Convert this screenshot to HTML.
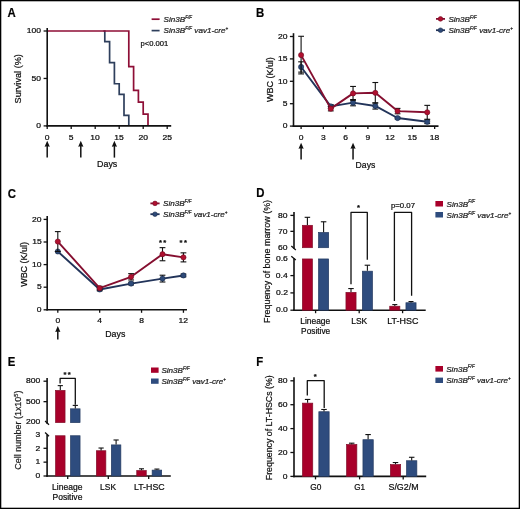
<!DOCTYPE html>
<html><head><meta charset="utf-8"><style>
html,body{margin:0;padding:0;background:#fff;}
svg{display:block;will-change:transform;}
text{font-family:"Liberation Sans", sans-serif;stroke:#222;stroke-width:0.22px;}
</style></head><body>
<svg width="520" height="509" viewBox="0 0 520 509" font-family='"Liberation Sans", sans-serif'>
<rect x="0" y="0" width="520" height="509" fill="#fff"/>
<text x="7.62" y="16.90" font-size="12" font-weight="bold" textLength="8.23" lengthAdjust="spacingAndGlyphs" fill="#000">A</text>
<polyline points="103.36,31.00 104.80,31.00 104.80,41.53 109.60,41.53 109.60,62.60 114.40,62.60 114.40,83.76 119.20,83.76 119.20,94.30 124.00,94.30 124.00,115.37 128.80,115.37 128.80,125.90" fill="none" stroke="#2e3f5c" stroke-width="1.7" stroke-linejoin="miter" stroke-linecap="butt"/>
<polyline points="47.20,31.00 128.80,31.00 128.80,66.59 133.60,66.59 133.60,90.31 138.40,90.31 138.40,102.18 143.20,102.18 143.20,114.04 148.00,114.04 148.00,125.90" fill="none" stroke="#8e0e36" stroke-width="1.7" stroke-linejoin="miter" stroke-linecap="butt"/>
<line x1="47.20" y1="28.00" x2="47.20" y2="126.70" stroke="#111" stroke-width="1.6" stroke-linecap="butt"/>
<line x1="46.40" y1="125.90" x2="171.20" y2="125.90" stroke="#111" stroke-width="1.6" stroke-linecap="butt"/>
<line x1="43.60" y1="31.00" x2="47.20" y2="31.00" stroke="#111" stroke-width="1.3" stroke-linecap="butt"/>
<text x="26.88" y="33.20" font-size="7" textLength="14.25" lengthAdjust="spacingAndGlyphs">100</text>
<line x1="43.60" y1="78.45" x2="47.20" y2="78.45" stroke="#111" stroke-width="1.3" stroke-linecap="butt"/>
<text x="31.63" y="80.65" font-size="7" textLength="9.50" lengthAdjust="spacingAndGlyphs">50</text>
<line x1="43.60" y1="125.90" x2="47.20" y2="125.90" stroke="#111" stroke-width="1.3" stroke-linecap="butt"/>
<text x="36.38" y="128.10" font-size="7" textLength="4.75" lengthAdjust="spacingAndGlyphs">0</text>
<line x1="47.20" y1="125.90" x2="47.20" y2="128.90" stroke="#111" stroke-width="1.3" stroke-linecap="butt"/>
<text x="44.83" y="139.60" font-size="7" textLength="4.75" lengthAdjust="spacingAndGlyphs">0</text>
<line x1="71.20" y1="125.90" x2="71.20" y2="128.90" stroke="#111" stroke-width="1.3" stroke-linecap="butt"/>
<text x="68.83" y="139.60" font-size="7" textLength="4.75" lengthAdjust="spacingAndGlyphs">5</text>
<line x1="95.20" y1="125.90" x2="95.20" y2="128.90" stroke="#111" stroke-width="1.3" stroke-linecap="butt"/>
<text x="90.29" y="139.60" font-size="7" textLength="9.50" lengthAdjust="spacingAndGlyphs">10</text>
<line x1="119.20" y1="125.90" x2="119.20" y2="128.90" stroke="#111" stroke-width="1.3" stroke-linecap="butt"/>
<text x="114.30" y="139.60" font-size="7" textLength="9.50" lengthAdjust="spacingAndGlyphs">15</text>
<line x1="143.20" y1="125.90" x2="143.20" y2="128.90" stroke="#111" stroke-width="1.3" stroke-linecap="butt"/>
<text x="138.40" y="139.60" font-size="7" textLength="9.50" lengthAdjust="spacingAndGlyphs">20</text>
<line x1="167.20" y1="125.90" x2="167.20" y2="128.90" stroke="#111" stroke-width="1.3" stroke-linecap="butt"/>
<text x="162.42" y="139.60" font-size="7" textLength="9.50" lengthAdjust="spacingAndGlyphs">25</text>
<text x="21.20" y="103.42" font-size="9.4" textLength="49.28" lengthAdjust="spacingAndGlyphs" transform="rotate(-90 21.20 103.42)">Survival (%)</text>
<line x1="47.20" y1="145.80" x2="47.20" y2="157.60" stroke="#111" stroke-width="1.5" stroke-linecap="butt"/>
<path d="M44.60,146.80 L47.20,140.80 L49.80,146.80 L47.20,146.30 Z" fill="#111"/>
<line x1="80.80" y1="145.80" x2="80.80" y2="157.60" stroke="#111" stroke-width="1.5" stroke-linecap="butt"/>
<path d="M78.20,146.80 L80.80,140.80 L83.40,146.80 L80.80,146.30 Z" fill="#111"/>
<line x1="114.40" y1="145.80" x2="114.40" y2="157.60" stroke="#111" stroke-width="1.5" stroke-linecap="butt"/>
<path d="M111.80,146.80 L114.40,140.80 L117.00,146.80 L114.40,146.30 Z" fill="#111"/>
<text x="97.07" y="166.60" font-size="9.3" textLength="20.25" lengthAdjust="spacingAndGlyphs">Days</text>
<line x1="151.60" y1="19.20" x2="159.60" y2="19.20" stroke="#8e0e36" stroke-width="1.7" stroke-linecap="butt"/>
<line x1="151.60" y1="30.60" x2="159.60" y2="30.60" stroke="#2e3f5c" stroke-width="1.7" stroke-linecap="butt"/>
<text x="163.60" y="22.10" font-size="8.1" font-style="italic" fill="#1a1a1a" stroke-width="0.1">Sin3B<tspan font-size="4.6" dy="-3.4">F/F</tspan></text>
<text x="163.60" y="33.30" font-size="8.1" font-style="italic" fill="#1a1a1a" stroke-width="0.1">Sin3B<tspan font-size="4.6" dy="-3.4">F/F</tspan><tspan dy="3.4" font-size="8.1"> vav1-cre</tspan><tspan font-size="4.6" dy="-3.4">+</tspan></text>
<text x="140.51" y="46.00" font-size="7.2" textLength="27.76" lengthAdjust="spacingAndGlyphs">p&lt;0.001</text>
<text x="256.04" y="17.00" font-size="12" font-weight="bold" textLength="8.23" lengthAdjust="spacingAndGlyphs" fill="#000">B</text>
<line x1="293.50" y1="33.20" x2="293.50" y2="126.90" stroke="#111" stroke-width="1.6" stroke-linecap="butt"/>
<line x1="292.70" y1="126.10" x2="438.50" y2="126.10" stroke="#111" stroke-width="1.6" stroke-linecap="butt"/>
<line x1="289.90" y1="126.10" x2="293.50" y2="126.10" stroke="#111" stroke-width="1.3" stroke-linecap="butt"/>
<text x="282.68" y="128.30" font-size="7" textLength="4.75" lengthAdjust="spacingAndGlyphs">0</text>
<line x1="289.90" y1="103.70" x2="293.50" y2="103.70" stroke="#111" stroke-width="1.3" stroke-linecap="butt"/>
<text x="282.71" y="105.90" font-size="7" textLength="4.75" lengthAdjust="spacingAndGlyphs">5</text>
<line x1="289.90" y1="81.30" x2="293.50" y2="81.30" stroke="#111" stroke-width="1.3" stroke-linecap="butt"/>
<text x="277.93" y="83.50" font-size="7" textLength="9.50" lengthAdjust="spacingAndGlyphs">10</text>
<line x1="289.90" y1="58.90" x2="293.50" y2="58.90" stroke="#111" stroke-width="1.3" stroke-linecap="butt"/>
<text x="277.96" y="61.10" font-size="7" textLength="9.50" lengthAdjust="spacingAndGlyphs">15</text>
<line x1="289.90" y1="36.50" x2="293.50" y2="36.50" stroke="#111" stroke-width="1.3" stroke-linecap="butt"/>
<text x="277.93" y="38.70" font-size="7" textLength="9.50" lengthAdjust="spacingAndGlyphs">20</text>
<line x1="301.10" y1="126.10" x2="301.10" y2="129.10" stroke="#111" stroke-width="1.3" stroke-linecap="butt"/>
<text x="298.73" y="139.60" font-size="7" textLength="4.75" lengthAdjust="spacingAndGlyphs">0</text>
<line x1="323.36" y1="126.10" x2="323.36" y2="129.10" stroke="#111" stroke-width="1.3" stroke-linecap="butt"/>
<text x="321.01" y="139.60" font-size="7" textLength="4.75" lengthAdjust="spacingAndGlyphs">3</text>
<line x1="345.62" y1="126.10" x2="345.62" y2="129.10" stroke="#111" stroke-width="1.3" stroke-linecap="butt"/>
<text x="343.22" y="139.60" font-size="7" textLength="4.75" lengthAdjust="spacingAndGlyphs">6</text>
<line x1="367.88" y1="126.10" x2="367.88" y2="129.10" stroke="#111" stroke-width="1.3" stroke-linecap="butt"/>
<text x="365.51" y="139.60" font-size="7" textLength="4.75" lengthAdjust="spacingAndGlyphs">9</text>
<line x1="390.14" y1="126.10" x2="390.14" y2="129.10" stroke="#111" stroke-width="1.3" stroke-linecap="butt"/>
<text x="385.28" y="139.60" font-size="7" textLength="9.50" lengthAdjust="spacingAndGlyphs">12</text>
<line x1="412.40" y1="126.10" x2="412.40" y2="129.10" stroke="#111" stroke-width="1.3" stroke-linecap="butt"/>
<text x="407.50" y="139.60" font-size="7" textLength="9.50" lengthAdjust="spacingAndGlyphs">15</text>
<line x1="434.66" y1="126.10" x2="434.66" y2="129.10" stroke="#111" stroke-width="1.3" stroke-linecap="butt"/>
<text x="429.77" y="139.60" font-size="7" textLength="9.50" lengthAdjust="spacingAndGlyphs">18</text>
<text x="272.80" y="102.04" font-size="9.4" textLength="44.90" lengthAdjust="spacingAndGlyphs" transform="rotate(-90 272.80 102.04)">WBC (K/ul)</text>
<line x1="301.10" y1="147.70" x2="301.10" y2="159.40" stroke="#111" stroke-width="1.5" stroke-linecap="butt"/>
<path d="M298.50,148.70 L301.10,142.70 L303.70,148.70 L301.10,148.20 Z" fill="#111"/>
<line x1="353.04" y1="147.70" x2="353.04" y2="159.40" stroke="#111" stroke-width="1.5" stroke-linecap="butt"/>
<path d="M350.44,148.70 L353.04,142.70 L355.64,148.70 L353.04,148.20 Z" fill="#111"/>
<text x="355.59" y="168.30" font-size="9.3" textLength="19.72" lengthAdjust="spacingAndGlyphs">Days</text>
<line x1="301.10" y1="66.96" x2="301.10" y2="61.81" stroke="#111" stroke-width="1.1" stroke-linecap="butt"/>
<line x1="298.20" y1="61.81" x2="304.00" y2="61.81" stroke="#111" stroke-width="1.1" stroke-linecap="butt"/>
<line x1="301.10" y1="66.96" x2="301.10" y2="72.12" stroke="#111" stroke-width="1.1" stroke-linecap="butt"/>
<line x1="298.20" y1="72.12" x2="304.00" y2="72.12" stroke="#111" stroke-width="1.1" stroke-linecap="butt"/>
<line x1="330.78" y1="106.39" x2="330.78" y2="104.60" stroke="#111" stroke-width="1.1" stroke-linecap="butt"/>
<line x1="327.88" y1="104.60" x2="333.68" y2="104.60" stroke="#111" stroke-width="1.1" stroke-linecap="butt"/>
<line x1="330.78" y1="106.39" x2="330.78" y2="108.18" stroke="#111" stroke-width="1.1" stroke-linecap="butt"/>
<line x1="327.88" y1="108.18" x2="333.68" y2="108.18" stroke="#111" stroke-width="1.1" stroke-linecap="butt"/>
<line x1="353.04" y1="102.67" x2="353.04" y2="99.53" stroke="#111" stroke-width="1.1" stroke-linecap="butt"/>
<line x1="350.14" y1="99.53" x2="355.94" y2="99.53" stroke="#111" stroke-width="1.1" stroke-linecap="butt"/>
<line x1="353.04" y1="102.67" x2="353.04" y2="105.81" stroke="#111" stroke-width="1.1" stroke-linecap="butt"/>
<line x1="350.14" y1="105.81" x2="355.94" y2="105.81" stroke="#111" stroke-width="1.1" stroke-linecap="butt"/>
<line x1="375.30" y1="105.94" x2="375.30" y2="102.80" stroke="#111" stroke-width="1.1" stroke-linecap="butt"/>
<line x1="372.40" y1="102.80" x2="378.20" y2="102.80" stroke="#111" stroke-width="1.1" stroke-linecap="butt"/>
<line x1="375.30" y1="105.94" x2="375.30" y2="109.08" stroke="#111" stroke-width="1.1" stroke-linecap="butt"/>
<line x1="372.40" y1="109.08" x2="378.20" y2="109.08" stroke="#111" stroke-width="1.1" stroke-linecap="butt"/>
<line x1="397.56" y1="118.04" x2="397.56" y2="117.14" stroke="#111" stroke-width="1.1" stroke-linecap="butt"/>
<line x1="394.66" y1="117.14" x2="400.46" y2="117.14" stroke="#111" stroke-width="1.1" stroke-linecap="butt"/>
<line x1="397.56" y1="118.04" x2="397.56" y2="118.93" stroke="#111" stroke-width="1.1" stroke-linecap="butt"/>
<line x1="394.66" y1="118.93" x2="400.46" y2="118.93" stroke="#111" stroke-width="1.1" stroke-linecap="butt"/>
<line x1="427.24" y1="121.80" x2="427.24" y2="120.01" stroke="#111" stroke-width="1.1" stroke-linecap="butt"/>
<line x1="424.34" y1="120.01" x2="430.14" y2="120.01" stroke="#111" stroke-width="1.1" stroke-linecap="butt"/>
<line x1="427.24" y1="121.80" x2="427.24" y2="123.59" stroke="#111" stroke-width="1.1" stroke-linecap="butt"/>
<line x1="424.34" y1="123.59" x2="430.14" y2="123.59" stroke="#111" stroke-width="1.1" stroke-linecap="butt"/>
<polyline points="301.10,66.96 330.78,106.39 353.04,102.67 375.30,105.94 397.56,118.04 427.24,121.80" fill="none" stroke="#22345a" stroke-width="1.9" stroke-linejoin="round" stroke-linecap="butt"/>
<circle cx="301.10" cy="66.96" r="2.6" fill="#2e4a78" stroke="#1a2a4a" stroke-width="0.6"/>
<circle cx="330.78" cy="106.39" r="2.6" fill="#2e4a78" stroke="#1a2a4a" stroke-width="0.6"/>
<circle cx="353.04" cy="102.67" r="2.6" fill="#2e4a78" stroke="#1a2a4a" stroke-width="0.6"/>
<circle cx="375.30" cy="105.94" r="2.6" fill="#2e4a78" stroke="#1a2a4a" stroke-width="0.6"/>
<circle cx="397.56" cy="118.04" r="2.6" fill="#2e4a78" stroke="#1a2a4a" stroke-width="0.6"/>
<circle cx="427.24" cy="121.80" r="2.6" fill="#2e4a78" stroke="#1a2a4a" stroke-width="0.6"/>
<line x1="301.10" y1="55.09" x2="301.10" y2="36.28" stroke="#111" stroke-width="1.1" stroke-linecap="butt"/>
<line x1="298.20" y1="36.28" x2="304.00" y2="36.28" stroke="#111" stroke-width="1.1" stroke-linecap="butt"/>
<line x1="301.10" y1="55.09" x2="301.10" y2="73.91" stroke="#111" stroke-width="1.1" stroke-linecap="butt"/>
<line x1="298.20" y1="73.91" x2="304.00" y2="73.91" stroke="#111" stroke-width="1.1" stroke-linecap="butt"/>
<line x1="330.78" y1="108.63" x2="330.78" y2="106.39" stroke="#111" stroke-width="1.1" stroke-linecap="butt"/>
<line x1="327.88" y1="106.39" x2="333.68" y2="106.39" stroke="#111" stroke-width="1.1" stroke-linecap="butt"/>
<line x1="330.78" y1="108.63" x2="330.78" y2="110.87" stroke="#111" stroke-width="1.1" stroke-linecap="butt"/>
<line x1="327.88" y1="110.87" x2="333.68" y2="110.87" stroke="#111" stroke-width="1.1" stroke-linecap="butt"/>
<line x1="353.04" y1="93.40" x2="353.04" y2="86.45" stroke="#111" stroke-width="1.1" stroke-linecap="butt"/>
<line x1="350.14" y1="86.45" x2="355.94" y2="86.45" stroke="#111" stroke-width="1.1" stroke-linecap="butt"/>
<line x1="353.04" y1="93.40" x2="353.04" y2="100.34" stroke="#111" stroke-width="1.1" stroke-linecap="butt"/>
<line x1="350.14" y1="100.34" x2="355.94" y2="100.34" stroke="#111" stroke-width="1.1" stroke-linecap="butt"/>
<line x1="375.30" y1="92.81" x2="375.30" y2="82.51" stroke="#111" stroke-width="1.1" stroke-linecap="butt"/>
<line x1="372.40" y1="82.51" x2="378.20" y2="82.51" stroke="#111" stroke-width="1.1" stroke-linecap="butt"/>
<line x1="375.30" y1="92.81" x2="375.30" y2="103.12" stroke="#111" stroke-width="1.1" stroke-linecap="butt"/>
<line x1="372.40" y1="103.12" x2="378.20" y2="103.12" stroke="#111" stroke-width="1.1" stroke-linecap="butt"/>
<line x1="397.56" y1="111.09" x2="397.56" y2="108.40" stroke="#111" stroke-width="1.1" stroke-linecap="butt"/>
<line x1="394.66" y1="108.40" x2="400.46" y2="108.40" stroke="#111" stroke-width="1.1" stroke-linecap="butt"/>
<line x1="397.56" y1="111.09" x2="397.56" y2="113.78" stroke="#111" stroke-width="1.1" stroke-linecap="butt"/>
<line x1="394.66" y1="113.78" x2="400.46" y2="113.78" stroke="#111" stroke-width="1.1" stroke-linecap="butt"/>
<line x1="427.24" y1="112.30" x2="427.24" y2="105.36" stroke="#111" stroke-width="1.1" stroke-linecap="butt"/>
<line x1="424.34" y1="105.36" x2="430.14" y2="105.36" stroke="#111" stroke-width="1.1" stroke-linecap="butt"/>
<line x1="427.24" y1="112.30" x2="427.24" y2="119.25" stroke="#111" stroke-width="1.1" stroke-linecap="butt"/>
<line x1="424.34" y1="119.25" x2="430.14" y2="119.25" stroke="#111" stroke-width="1.1" stroke-linecap="butt"/>
<polyline points="301.10,55.09 330.78,108.63 353.04,93.40 375.30,92.81 397.56,111.09 427.24,112.30" fill="none" stroke="#850f30" stroke-width="1.9" stroke-linejoin="round" stroke-linecap="butt"/>
<circle cx="301.10" cy="55.09" r="2.6" fill="#b0102f" stroke="#6e0a22" stroke-width="0.6"/>
<circle cx="330.78" cy="108.63" r="2.6" fill="#b0102f" stroke="#6e0a22" stroke-width="0.6"/>
<circle cx="353.04" cy="93.40" r="2.6" fill="#b0102f" stroke="#6e0a22" stroke-width="0.6"/>
<circle cx="375.30" cy="92.81" r="2.6" fill="#b0102f" stroke="#6e0a22" stroke-width="0.6"/>
<circle cx="397.56" cy="111.09" r="2.6" fill="#b0102f" stroke="#6e0a22" stroke-width="0.6"/>
<circle cx="427.24" cy="112.30" r="2.6" fill="#b0102f" stroke="#6e0a22" stroke-width="0.6"/>
<line x1="436.00" y1="18.90" x2="445.00" y2="18.90" stroke="#850f30" stroke-width="1.8" stroke-linecap="butt"/>
<circle cx="440.50" cy="18.90" r="2.3000000000000003" fill="#b0102f" stroke="#6e0a22" stroke-width="0.6"/>
<line x1="436.00" y1="30.20" x2="445.00" y2="30.20" stroke="#22345a" stroke-width="1.8" stroke-linecap="butt"/>
<circle cx="440.50" cy="30.20" r="2.3000000000000003" fill="#2e4a78" stroke="#1a2a4a" stroke-width="0.6"/>
<text x="448.40" y="22.10" font-size="8.1" font-style="italic" fill="#1a1a1a" stroke-width="0.1">Sin3B<tspan font-size="4.6" dy="-3.4">F/F</tspan></text>
<text x="448.40" y="33.30" font-size="8.1" font-style="italic" fill="#1a1a1a" stroke-width="0.1">Sin3B<tspan font-size="4.6" dy="-3.4">F/F</tspan><tspan dy="3.4" font-size="8.1"> vav1-cre</tspan><tspan font-size="4.6" dy="-3.4">+</tspan></text>
<text x="7.63" y="197.80" font-size="12" font-weight="bold" textLength="8.23" lengthAdjust="spacingAndGlyphs" fill="#000">C</text>
<line x1="47.20" y1="216.00" x2="47.20" y2="310.60" stroke="#111" stroke-width="1.6" stroke-linecap="butt"/>
<line x1="46.40" y1="309.80" x2="187.00" y2="309.80" stroke="#111" stroke-width="1.6" stroke-linecap="butt"/>
<line x1="43.60" y1="309.80" x2="47.20" y2="309.80" stroke="#111" stroke-width="1.3" stroke-linecap="butt"/>
<text x="36.88" y="312.00" font-size="7" textLength="4.75" lengthAdjust="spacingAndGlyphs">0</text>
<line x1="43.60" y1="287.20" x2="47.20" y2="287.20" stroke="#111" stroke-width="1.3" stroke-linecap="butt"/>
<text x="36.91" y="289.40" font-size="7" textLength="4.75" lengthAdjust="spacingAndGlyphs">5</text>
<line x1="43.60" y1="264.60" x2="47.20" y2="264.60" stroke="#111" stroke-width="1.3" stroke-linecap="butt"/>
<text x="32.13" y="266.80" font-size="7" textLength="9.50" lengthAdjust="spacingAndGlyphs">10</text>
<line x1="43.60" y1="242.00" x2="47.20" y2="242.00" stroke="#111" stroke-width="1.3" stroke-linecap="butt"/>
<text x="32.16" y="244.20" font-size="7" textLength="9.50" lengthAdjust="spacingAndGlyphs">15</text>
<line x1="43.60" y1="219.40" x2="47.20" y2="219.40" stroke="#111" stroke-width="1.3" stroke-linecap="butt"/>
<text x="32.13" y="221.60" font-size="7" textLength="9.50" lengthAdjust="spacingAndGlyphs">20</text>
<line x1="57.80" y1="309.80" x2="57.80" y2="312.80" stroke="#111" stroke-width="1.3" stroke-linecap="butt"/>
<text x="55.43" y="323.40" font-size="7" textLength="4.75" lengthAdjust="spacingAndGlyphs">0</text>
<line x1="99.68" y1="309.80" x2="99.68" y2="312.80" stroke="#111" stroke-width="1.3" stroke-linecap="butt"/>
<text x="97.33" y="323.40" font-size="7" textLength="4.75" lengthAdjust="spacingAndGlyphs">4</text>
<line x1="141.56" y1="309.80" x2="141.56" y2="312.80" stroke="#111" stroke-width="1.3" stroke-linecap="butt"/>
<text x="139.19" y="323.40" font-size="7" textLength="4.75" lengthAdjust="spacingAndGlyphs">8</text>
<line x1="183.44" y1="309.80" x2="183.44" y2="312.80" stroke="#111" stroke-width="1.3" stroke-linecap="butt"/>
<text x="178.58" y="323.40" font-size="7" textLength="9.50" lengthAdjust="spacingAndGlyphs">12</text>
<text x="26.80" y="286.84" font-size="9.4" textLength="44.90" lengthAdjust="spacingAndGlyphs" transform="rotate(-90 26.80 286.84)">WBC (K/ul)</text>
<line x1="57.80" y1="330.90" x2="57.80" y2="339.50" stroke="#111" stroke-width="1.5" stroke-linecap="butt"/>
<path d="M55.20,331.90 L57.80,325.90 L60.40,331.90 L57.80,331.40 Z" fill="#111"/>
<text x="105.28" y="337.10" font-size="9.3" textLength="20.04" lengthAdjust="spacingAndGlyphs">Days</text>
<line x1="99.68" y1="289.46" x2="99.68" y2="288.10" stroke="#111" stroke-width="1.1" stroke-linecap="butt"/>
<line x1="96.78" y1="288.10" x2="102.58" y2="288.10" stroke="#111" stroke-width="1.1" stroke-linecap="butt"/>
<line x1="99.68" y1="289.46" x2="99.68" y2="290.82" stroke="#111" stroke-width="1.1" stroke-linecap="butt"/>
<line x1="96.78" y1="290.82" x2="102.58" y2="290.82" stroke="#111" stroke-width="1.1" stroke-linecap="butt"/>
<line x1="131.09" y1="283.58" x2="131.09" y2="282.23" stroke="#111" stroke-width="1.1" stroke-linecap="butt"/>
<line x1="128.19" y1="282.23" x2="133.99" y2="282.23" stroke="#111" stroke-width="1.1" stroke-linecap="butt"/>
<line x1="131.09" y1="283.58" x2="131.09" y2="284.94" stroke="#111" stroke-width="1.1" stroke-linecap="butt"/>
<line x1="128.19" y1="284.94" x2="133.99" y2="284.94" stroke="#111" stroke-width="1.1" stroke-linecap="butt"/>
<line x1="162.50" y1="278.61" x2="162.50" y2="275.22" stroke="#111" stroke-width="1.1" stroke-linecap="butt"/>
<line x1="159.60" y1="275.22" x2="165.40" y2="275.22" stroke="#111" stroke-width="1.1" stroke-linecap="butt"/>
<line x1="162.50" y1="278.61" x2="162.50" y2="282.00" stroke="#111" stroke-width="1.1" stroke-linecap="butt"/>
<line x1="159.60" y1="282.00" x2="165.40" y2="282.00" stroke="#111" stroke-width="1.1" stroke-linecap="butt"/>
<line x1="183.44" y1="275.45" x2="183.44" y2="274.09" stroke="#111" stroke-width="1.1" stroke-linecap="butt"/>
<line x1="180.54" y1="274.09" x2="186.34" y2="274.09" stroke="#111" stroke-width="1.1" stroke-linecap="butt"/>
<line x1="183.44" y1="275.45" x2="183.44" y2="276.80" stroke="#111" stroke-width="1.1" stroke-linecap="butt"/>
<line x1="180.54" y1="276.80" x2="186.34" y2="276.80" stroke="#111" stroke-width="1.1" stroke-linecap="butt"/>
<polyline points="57.80,251.49 99.68,289.46 131.09,283.58 162.50,278.61 183.44,275.45" fill="none" stroke="#22345a" stroke-width="1.9" stroke-linejoin="round" stroke-linecap="butt"/>
<circle cx="57.80" cy="251.49" r="2.6" fill="#2e4a78" stroke="#1a2a4a" stroke-width="0.6"/>
<circle cx="99.68" cy="289.46" r="2.6" fill="#2e4a78" stroke="#1a2a4a" stroke-width="0.6"/>
<circle cx="131.09" cy="283.58" r="2.6" fill="#2e4a78" stroke="#1a2a4a" stroke-width="0.6"/>
<circle cx="162.50" cy="278.61" r="2.6" fill="#2e4a78" stroke="#1a2a4a" stroke-width="0.6"/>
<circle cx="183.44" cy="275.45" r="2.6" fill="#2e4a78" stroke="#1a2a4a" stroke-width="0.6"/>
<line x1="57.80" y1="241.55" x2="57.80" y2="231.60" stroke="#111" stroke-width="1.1" stroke-linecap="butt"/>
<line x1="54.90" y1="231.60" x2="60.70" y2="231.60" stroke="#111" stroke-width="1.1" stroke-linecap="butt"/>
<line x1="57.80" y1="241.55" x2="57.80" y2="251.49" stroke="#111" stroke-width="1.1" stroke-linecap="butt"/>
<line x1="54.90" y1="251.49" x2="60.70" y2="251.49" stroke="#111" stroke-width="1.1" stroke-linecap="butt"/>
<line x1="99.68" y1="288.10" x2="99.68" y2="286.30" stroke="#111" stroke-width="1.1" stroke-linecap="butt"/>
<line x1="96.78" y1="286.30" x2="102.58" y2="286.30" stroke="#111" stroke-width="1.1" stroke-linecap="butt"/>
<line x1="99.68" y1="288.10" x2="99.68" y2="289.91" stroke="#111" stroke-width="1.1" stroke-linecap="butt"/>
<line x1="96.78" y1="289.91" x2="102.58" y2="289.91" stroke="#111" stroke-width="1.1" stroke-linecap="butt"/>
<line x1="131.09" y1="276.80" x2="131.09" y2="273.64" stroke="#111" stroke-width="1.1" stroke-linecap="butt"/>
<line x1="128.19" y1="273.64" x2="133.99" y2="273.64" stroke="#111" stroke-width="1.1" stroke-linecap="butt"/>
<line x1="131.09" y1="276.80" x2="131.09" y2="279.97" stroke="#111" stroke-width="1.1" stroke-linecap="butt"/>
<line x1="128.19" y1="279.97" x2="133.99" y2="279.97" stroke="#111" stroke-width="1.1" stroke-linecap="butt"/>
<line x1="162.50" y1="254.20" x2="162.50" y2="247.65" stroke="#111" stroke-width="1.1" stroke-linecap="butt"/>
<line x1="159.60" y1="247.65" x2="165.40" y2="247.65" stroke="#111" stroke-width="1.1" stroke-linecap="butt"/>
<line x1="162.50" y1="254.20" x2="162.50" y2="260.76" stroke="#111" stroke-width="1.1" stroke-linecap="butt"/>
<line x1="159.60" y1="260.76" x2="165.40" y2="260.76" stroke="#111" stroke-width="1.1" stroke-linecap="butt"/>
<line x1="183.44" y1="257.37" x2="183.44" y2="252.85" stroke="#111" stroke-width="1.1" stroke-linecap="butt"/>
<line x1="180.54" y1="252.85" x2="186.34" y2="252.85" stroke="#111" stroke-width="1.1" stroke-linecap="butt"/>
<line x1="183.44" y1="257.37" x2="183.44" y2="261.89" stroke="#111" stroke-width="1.1" stroke-linecap="butt"/>
<line x1="180.54" y1="261.89" x2="186.34" y2="261.89" stroke="#111" stroke-width="1.1" stroke-linecap="butt"/>
<polyline points="57.80,241.55 99.68,288.10 131.09,276.80 162.50,254.20 183.44,257.37" fill="none" stroke="#850f30" stroke-width="1.9" stroke-linejoin="round" stroke-linecap="butt"/>
<circle cx="57.80" cy="241.55" r="2.6" fill="#b0102f" stroke="#6e0a22" stroke-width="0.6"/>
<circle cx="99.68" cy="288.10" r="2.6" fill="#b0102f" stroke="#6e0a22" stroke-width="0.6"/>
<circle cx="131.09" cy="276.80" r="2.6" fill="#b0102f" stroke="#6e0a22" stroke-width="0.6"/>
<circle cx="162.50" cy="254.20" r="2.6" fill="#b0102f" stroke="#6e0a22" stroke-width="0.6"/>
<circle cx="183.44" cy="257.37" r="2.6" fill="#b0102f" stroke="#6e0a22" stroke-width="0.6"/>
<text x="158.91" y="245.11" font-size="7.6" font-weight="bold" fill="#000">*</text>
<text x="163.21" y="245.11" font-size="7.6" font-weight="bold" fill="#000">*</text>
<text x="179.61" y="245.11" font-size="7.6" font-weight="bold" fill="#000">*</text>
<text x="184.01" y="245.11" font-size="7.6" font-weight="bold" fill="#000">*</text>
<line x1="150.40" y1="203.40" x2="159.60" y2="203.40" stroke="#850f30" stroke-width="1.8" stroke-linecap="butt"/>
<circle cx="155.00" cy="203.40" r="2.3000000000000003" fill="#b0102f" stroke="#6e0a22" stroke-width="0.6"/>
<line x1="150.40" y1="214.20" x2="159.60" y2="214.20" stroke="#22345a" stroke-width="1.8" stroke-linecap="butt"/>
<circle cx="155.00" cy="214.20" r="2.3000000000000003" fill="#2e4a78" stroke="#1a2a4a" stroke-width="0.6"/>
<text x="163.00" y="206.30" font-size="8.1" font-style="italic" fill="#1a1a1a" stroke-width="0.1">Sin3B<tspan font-size="4.6" dy="-3.4">F/F</tspan></text>
<text x="163.00" y="217.40" font-size="8.1" font-style="italic" fill="#1a1a1a" stroke-width="0.1">Sin3B<tspan font-size="4.6" dy="-3.4">F/F</tspan><tspan dy="3.4" font-size="8.1"> vav1-cre</tspan><tspan font-size="4.6" dy="-3.4">+</tspan></text>
<text x="256.14" y="197.20" font-size="12" font-weight="bold" textLength="8.23" lengthAdjust="spacingAndGlyphs" fill="#000">D</text>
<line x1="294.00" y1="211.90" x2="294.00" y2="248.80" stroke="#111" stroke-width="1.6" stroke-linecap="butt"/>
<line x1="294.00" y1="258.20" x2="294.00" y2="311.00" stroke="#111" stroke-width="1.6" stroke-linecap="butt"/>
<line x1="291.30" y1="246.10" x2="295.80" y2="249.90" stroke="#111" stroke-width="1.3" stroke-linecap="butt"/>
<line x1="291.30" y1="256.30" x2="295.80" y2="260.10" stroke="#111" stroke-width="1.3" stroke-linecap="butt"/>
<line x1="293.20" y1="310.20" x2="425.70" y2="310.20" stroke="#111" stroke-width="1.6" stroke-linecap="butt"/>
<text x="278.13" y="249.50" font-size="7" textLength="9.50" lengthAdjust="spacingAndGlyphs">60</text>
<line x1="290.40" y1="231.35" x2="294.00" y2="231.35" stroke="#111" stroke-width="1.3" stroke-linecap="butt"/>
<text x="278.13" y="233.55" font-size="7" textLength="9.50" lengthAdjust="spacingAndGlyphs">70</text>
<line x1="290.40" y1="215.40" x2="294.00" y2="215.40" stroke="#111" stroke-width="1.3" stroke-linecap="butt"/>
<text x="278.13" y="217.60" font-size="7" textLength="9.50" lengthAdjust="spacingAndGlyphs">80</text>
<line x1="290.40" y1="310.20" x2="294.00" y2="310.20" stroke="#111" stroke-width="1.3" stroke-linecap="butt"/>
<text x="275.96" y="312.40" font-size="7" textLength="11.87" lengthAdjust="spacingAndGlyphs">0.0</text>
<line x1="290.40" y1="292.90" x2="294.00" y2="292.90" stroke="#111" stroke-width="1.3" stroke-linecap="butt"/>
<text x="276.06" y="295.10" font-size="7" textLength="11.87" lengthAdjust="spacingAndGlyphs">0.2</text>
<line x1="290.40" y1="275.60" x2="294.00" y2="275.60" stroke="#111" stroke-width="1.3" stroke-linecap="butt"/>
<text x="275.88" y="277.80" font-size="7" textLength="11.87" lengthAdjust="spacingAndGlyphs">0.4</text>
<text x="276.00" y="260.50" font-size="7" textLength="11.87" lengthAdjust="spacingAndGlyphs">0.6</text>
<text x="269.80" y="322.93" font-size="9.6" textLength="122.99" lengthAdjust="spacingAndGlyphs" transform="rotate(-90 269.80 322.93)">Frequency of bone marrow (%)</text>
<line x1="315.60" y1="310.20" x2="315.60" y2="313.20" stroke="#111" stroke-width="1.3" stroke-linecap="butt"/>
<line x1="359.20" y1="310.20" x2="359.20" y2="313.20" stroke="#111" stroke-width="1.3" stroke-linecap="butt"/>
<line x1="402.60" y1="310.20" x2="402.60" y2="313.20" stroke="#111" stroke-width="1.3" stroke-linecap="butt"/>
<rect x="302.35" y="225.32" width="10.10" height="22.38" fill="#a8002a" stroke="#82102c" stroke-width="0.7"/>
<rect x="318.55" y="232.50" width="10.10" height="15.20" fill="#2e4c7e" stroke="#243a60" stroke-width="0.7"/>
<line x1="307.40" y1="224.97" x2="307.40" y2="217.31" stroke="#111" stroke-width="1.1" stroke-linecap="butt"/>
<line x1="304.65" y1="217.31" x2="310.15" y2="217.31" stroke="#111" stroke-width="1.1" stroke-linecap="butt"/>
<line x1="323.60" y1="232.15" x2="323.60" y2="221.78" stroke="#111" stroke-width="1.1" stroke-linecap="butt"/>
<line x1="320.85" y1="221.78" x2="326.35" y2="221.78" stroke="#111" stroke-width="1.1" stroke-linecap="butt"/>
<rect x="302.35" y="258.95" width="10.10" height="51.25" fill="#a8002a" stroke="#82102c" stroke-width="0.7"/>
<rect x="318.55" y="258.95" width="10.10" height="51.25" fill="#2e4c7e" stroke="#243a60" stroke-width="0.7"/>
<rect x="345.95" y="292.38" width="10.10" height="17.82" fill="#a8002a" stroke="#82102c" stroke-width="0.7"/>
<rect x="362.35" y="271.19" width="10.10" height="39.01" fill="#2e4c7e" stroke="#243a60" stroke-width="0.7"/>
<line x1="351.00" y1="292.03" x2="351.00" y2="288.57" stroke="#111" stroke-width="1.1" stroke-linecap="butt"/>
<line x1="348.25" y1="288.57" x2="353.75" y2="288.57" stroke="#111" stroke-width="1.1" stroke-linecap="butt"/>
<line x1="367.40" y1="270.84" x2="367.40" y2="265.22" stroke="#111" stroke-width="1.1" stroke-linecap="butt"/>
<line x1="364.65" y1="265.22" x2="370.15" y2="265.22" stroke="#111" stroke-width="1.1" stroke-linecap="butt"/>
<rect x="389.75" y="306.23" width="10.10" height="3.97" fill="#a8002a" stroke="#82102c" stroke-width="0.7"/>
<rect x="405.95" y="302.76" width="10.10" height="7.44" fill="#2e4c7e" stroke="#243a60" stroke-width="0.7"/>
<line x1="394.80" y1="305.88" x2="394.80" y2="304.58" stroke="#111" stroke-width="1.1" stroke-linecap="butt"/>
<line x1="392.30" y1="304.58" x2="397.30" y2="304.58" stroke="#111" stroke-width="1.1" stroke-linecap="butt"/>
<line x1="411.00" y1="302.41" x2="411.00" y2="301.55" stroke="#111" stroke-width="1.1" stroke-linecap="butt"/>
<line x1="408.50" y1="301.55" x2="413.50" y2="301.55" stroke="#111" stroke-width="1.1" stroke-linecap="butt"/>
<polyline points="351.00,284.30 351.00,212.40 367.30,212.40 367.30,259.80" fill="none" stroke="#111" stroke-width="1.3" stroke-linejoin="round" stroke-linecap="butt"/>
<polyline points="394.40,301.00 394.40,212.40 411.60,212.40 411.60,295.80" fill="none" stroke="#111" stroke-width="1.3" stroke-linejoin="round" stroke-linecap="butt"/>
<text x="356.91" y="210.31" font-size="7.6" font-weight="bold" fill="#000">*</text>
<text x="390.90" y="208.40" font-size="7.2" textLength="24.10" lengthAdjust="spacingAndGlyphs">p=0.07</text>
<text x="300.31" y="324.00" font-size="8.2" textLength="29.86" lengthAdjust="spacingAndGlyphs">Lineage</text>
<text x="301.12" y="333.60" font-size="8.2" textLength="29.05" lengthAdjust="spacingAndGlyphs">Positive</text>
<text x="351.21" y="323.70" font-size="8.2" textLength="15.99" lengthAdjust="spacingAndGlyphs">LSK</text>
<text x="387.30" y="323.70" font-size="8.2" textLength="31.03" lengthAdjust="spacingAndGlyphs">LT-HSC</text>
<rect x="435.40" y="201.00" width="7.60" height="5.50" fill="#a8002a"/>
<rect x="435.40" y="212.00" width="7.60" height="5.50" fill="#2e4c7e"/>
<text x="446.60" y="206.60" font-size="8.1" font-style="italic" fill="#1a1a1a" stroke-width="0.1">Sin3B<tspan font-size="4.6" dy="-3.4">F/F</tspan></text>
<text x="446.60" y="218.00" font-size="8.1" font-style="italic" fill="#1a1a1a" stroke-width="0.1">Sin3B<tspan font-size="4.6" dy="-3.4">F/F</tspan><tspan dy="3.4" font-size="8.1"> vav1-cre</tspan><tspan font-size="4.6" dy="-3.4">+</tspan></text>
<text x="7.64" y="366.00" font-size="12" font-weight="bold" textLength="7.60" lengthAdjust="spacingAndGlyphs" fill="#000">E</text>
<line x1="47.10" y1="377.90" x2="47.10" y2="423.70" stroke="#111" stroke-width="1.6" stroke-linecap="butt"/>
<line x1="47.10" y1="434.40" x2="47.10" y2="476.80" stroke="#111" stroke-width="1.6" stroke-linecap="butt"/>
<line x1="45.10" y1="421.10" x2="49.00" y2="424.70" stroke="#111" stroke-width="1.3" stroke-linecap="butt"/>
<line x1="45.10" y1="432.50" x2="49.00" y2="436.20" stroke="#111" stroke-width="1.3" stroke-linecap="butt"/>
<line x1="46.30" y1="476.00" x2="170.80" y2="476.00" stroke="#111" stroke-width="1.6" stroke-linecap="butt"/>
<text x="25.98" y="424.30" font-size="7" textLength="14.25" lengthAdjust="spacingAndGlyphs">200</text>
<line x1="43.50" y1="401.65" x2="47.10" y2="401.65" stroke="#111" stroke-width="1.3" stroke-linecap="butt"/>
<text x="25.98" y="403.85" font-size="7" textLength="14.25" lengthAdjust="spacingAndGlyphs">500</text>
<line x1="43.50" y1="381.20" x2="47.10" y2="381.20" stroke="#111" stroke-width="1.3" stroke-linecap="butt"/>
<text x="25.98" y="383.40" font-size="7" textLength="14.25" lengthAdjust="spacingAndGlyphs">800</text>
<line x1="43.50" y1="476.00" x2="47.10" y2="476.00" stroke="#111" stroke-width="1.3" stroke-linecap="butt"/>
<text x="35.48" y="478.20" font-size="7" textLength="4.75" lengthAdjust="spacingAndGlyphs">0</text>
<line x1="43.50" y1="462.15" x2="47.10" y2="462.15" stroke="#111" stroke-width="1.3" stroke-linecap="butt"/>
<text x="35.57" y="464.35" font-size="7" textLength="4.75" lengthAdjust="spacingAndGlyphs">1</text>
<line x1="43.50" y1="448.30" x2="47.10" y2="448.30" stroke="#111" stroke-width="1.3" stroke-linecap="butt"/>
<text x="35.58" y="450.50" font-size="7" textLength="4.75" lengthAdjust="spacingAndGlyphs">2</text>
<text x="35.53" y="436.65" font-size="7" textLength="4.75" lengthAdjust="spacingAndGlyphs">3</text>
<text x="21.5" y="469.65" font-size="9.2" transform="rotate(-90 21.5 469.65)" fill="#1a1a1a"><tspan textLength="72.96" lengthAdjust="spacingAndGlyphs">Cell number (1x10</tspan><tspan font-size="5.6" dy="-3.6">5</tspan><tspan dy="3.6">)</tspan></text>
<line x1="67.70" y1="476.00" x2="67.70" y2="479.00" stroke="#111" stroke-width="1.3" stroke-linecap="butt"/>
<line x1="108.30" y1="476.00" x2="108.30" y2="479.00" stroke="#111" stroke-width="1.3" stroke-linecap="butt"/>
<line x1="148.70" y1="476.00" x2="148.70" y2="479.00" stroke="#111" stroke-width="1.3" stroke-linecap="butt"/>
<rect x="55.55" y="390.41" width="9.50" height="32.19" fill="#a8002a" stroke="#82102c" stroke-width="0.7"/>
<rect x="70.55" y="408.82" width="9.50" height="13.78" fill="#2e4c7e" stroke="#243a60" stroke-width="0.7"/>
<line x1="60.30" y1="390.06" x2="60.30" y2="385.63" stroke="#111" stroke-width="1.1" stroke-linecap="butt"/>
<line x1="57.70" y1="385.63" x2="62.90" y2="385.63" stroke="#111" stroke-width="1.1" stroke-linecap="butt"/>
<line x1="75.30" y1="408.47" x2="75.30" y2="405.40" stroke="#111" stroke-width="1.1" stroke-linecap="butt"/>
<line x1="72.70" y1="405.40" x2="77.90" y2="405.40" stroke="#111" stroke-width="1.1" stroke-linecap="butt"/>
<rect x="55.55" y="435.75" width="9.50" height="40.25" fill="#a8002a" stroke="#82102c" stroke-width="0.7"/>
<rect x="70.55" y="435.75" width="9.50" height="40.25" fill="#2e4c7e" stroke="#243a60" stroke-width="0.7"/>
<rect x="96.35" y="450.73" width="9.50" height="25.27" fill="#a8002a" stroke="#82102c" stroke-width="0.7"/>
<rect x="111.35" y="444.91" width="9.50" height="31.09" fill="#2e4c7e" stroke="#243a60" stroke-width="0.7"/>
<line x1="101.10" y1="450.38" x2="101.10" y2="448.02" stroke="#111" stroke-width="1.1" stroke-linecap="butt"/>
<line x1="98.50" y1="448.02" x2="103.70" y2="448.02" stroke="#111" stroke-width="1.1" stroke-linecap="butt"/>
<line x1="116.10" y1="444.56" x2="116.10" y2="439.99" stroke="#111" stroke-width="1.1" stroke-linecap="butt"/>
<line x1="113.50" y1="439.99" x2="118.70" y2="439.99" stroke="#111" stroke-width="1.1" stroke-linecap="butt"/>
<rect x="136.75" y="470.53" width="9.50" height="5.47" fill="#a8002a" stroke="#82102c" stroke-width="0.7"/>
<rect x="152.15" y="470.12" width="9.50" height="5.88" fill="#2e4c7e" stroke="#243a60" stroke-width="0.7"/>
<line x1="141.50" y1="470.18" x2="141.50" y2="468.80" stroke="#111" stroke-width="1.1" stroke-linecap="butt"/>
<line x1="139.00" y1="468.80" x2="144.00" y2="468.80" stroke="#111" stroke-width="1.1" stroke-linecap="butt"/>
<line x1="156.90" y1="469.77" x2="156.90" y2="469.07" stroke="#111" stroke-width="1.1" stroke-linecap="butt"/>
<line x1="154.40" y1="469.07" x2="159.40" y2="469.07" stroke="#111" stroke-width="1.1" stroke-linecap="butt"/>
<polyline points="60.10,383.50 60.10,378.40 75.30,378.40 75.30,404.80" fill="none" stroke="#111" stroke-width="1.3" stroke-linejoin="round" stroke-linecap="butt"/>
<text x="63.61" y="376.81" font-size="7.6" font-weight="bold" fill="#000">*</text>
<text x="67.71" y="376.81" font-size="7.6" font-weight="bold" fill="#000">*</text>
<text x="52.10" y="489.90" font-size="8.2" textLength="30.28" lengthAdjust="spacingAndGlyphs">Lineage</text>
<text x="52.50" y="499.60" font-size="8.2" textLength="29.88" lengthAdjust="spacingAndGlyphs">Positive</text>
<text x="100.11" y="489.90" font-size="8.2" textLength="15.88" lengthAdjust="spacingAndGlyphs">LSK</text>
<text x="134.00" y="489.90" font-size="8.2" textLength="30.62" lengthAdjust="spacingAndGlyphs">LT-HSC</text>
<rect x="151.00" y="367.50" width="7.60" height="5.30" fill="#a8002a"/>
<rect x="151.00" y="378.50" width="7.60" height="5.30" fill="#2e4c7e"/>
<text x="161.40" y="372.90" font-size="8.1" font-style="italic" fill="#1a1a1a" stroke-width="0.1">Sin3B<tspan font-size="4.6" dy="-3.4">F/F</tspan></text>
<text x="161.40" y="384.20" font-size="8.1" font-style="italic" fill="#1a1a1a" stroke-width="0.1">Sin3B<tspan font-size="4.6" dy="-3.4">F/F</tspan><tspan dy="3.4" font-size="8.1"> vav1-cre</tspan><tspan font-size="4.6" dy="-3.4">+</tspan></text>
<text x="256.24" y="366.00" font-size="12" font-weight="bold" textLength="6.96" lengthAdjust="spacingAndGlyphs" fill="#000">F</text>
<line x1="294.00" y1="377.30" x2="294.00" y2="477.20" stroke="#111" stroke-width="1.6" stroke-linecap="butt"/>
<line x1="293.20" y1="476.40" x2="426.20" y2="476.40" stroke="#111" stroke-width="1.6" stroke-linecap="butt"/>
<line x1="290.40" y1="476.40" x2="294.00" y2="476.40" stroke="#111" stroke-width="1.3" stroke-linecap="butt"/>
<text x="282.88" y="478.60" font-size="7" textLength="4.75" lengthAdjust="spacingAndGlyphs">0</text>
<line x1="290.40" y1="452.50" x2="294.00" y2="452.50" stroke="#111" stroke-width="1.3" stroke-linecap="butt"/>
<text x="278.13" y="454.70" font-size="7" textLength="9.50" lengthAdjust="spacingAndGlyphs">20</text>
<line x1="290.40" y1="428.60" x2="294.00" y2="428.60" stroke="#111" stroke-width="1.3" stroke-linecap="butt"/>
<text x="278.13" y="430.80" font-size="7" textLength="9.50" lengthAdjust="spacingAndGlyphs">40</text>
<line x1="290.40" y1="404.70" x2="294.00" y2="404.70" stroke="#111" stroke-width="1.3" stroke-linecap="butt"/>
<text x="278.13" y="406.90" font-size="7" textLength="9.50" lengthAdjust="spacingAndGlyphs">60</text>
<line x1="290.40" y1="380.80" x2="294.00" y2="380.80" stroke="#111" stroke-width="1.3" stroke-linecap="butt"/>
<text x="278.13" y="383.00" font-size="7" textLength="9.50" lengthAdjust="spacingAndGlyphs">80</text>
<text x="271.80" y="480.21" font-size="9.6" textLength="104.95" lengthAdjust="spacingAndGlyphs" transform="rotate(-90 271.80 480.21)">Frequency of LT-HSCs (%)</text>
<line x1="315.50" y1="476.40" x2="315.50" y2="479.40" stroke="#111" stroke-width="1.3" stroke-linecap="butt"/>
<line x1="359.60" y1="476.40" x2="359.60" y2="479.40" stroke="#111" stroke-width="1.3" stroke-linecap="butt"/>
<line x1="403.20" y1="476.40" x2="403.20" y2="479.40" stroke="#111" stroke-width="1.3" stroke-linecap="butt"/>
<rect x="302.45" y="403.14" width="10.30" height="73.26" fill="#a8002a" stroke="#82102c" stroke-width="0.7"/>
<rect x="318.85" y="411.74" width="10.30" height="64.66" fill="#2e4c7e" stroke="#243a60" stroke-width="0.7"/>
<line x1="307.60" y1="402.79" x2="307.60" y2="399.44" stroke="#111" stroke-width="1.1" stroke-linecap="butt"/>
<line x1="304.85" y1="399.44" x2="310.35" y2="399.44" stroke="#111" stroke-width="1.1" stroke-linecap="butt"/>
<line x1="324.00" y1="411.39" x2="324.00" y2="409.48" stroke="#111" stroke-width="1.1" stroke-linecap="butt"/>
<line x1="321.25" y1="409.48" x2="326.75" y2="409.48" stroke="#111" stroke-width="1.1" stroke-linecap="butt"/>
<rect x="346.55" y="444.49" width="10.30" height="31.91" fill="#a8002a" stroke="#82102c" stroke-width="0.7"/>
<rect x="362.95" y="439.70" width="10.30" height="36.70" fill="#2e4c7e" stroke="#243a60" stroke-width="0.7"/>
<line x1="351.70" y1="444.13" x2="351.70" y2="443.18" stroke="#111" stroke-width="1.1" stroke-linecap="butt"/>
<line x1="348.95" y1="443.18" x2="354.45" y2="443.18" stroke="#111" stroke-width="1.1" stroke-linecap="butt"/>
<line x1="368.10" y1="439.35" x2="368.10" y2="434.57" stroke="#111" stroke-width="1.1" stroke-linecap="butt"/>
<line x1="365.35" y1="434.57" x2="370.85" y2="434.57" stroke="#111" stroke-width="1.1" stroke-linecap="butt"/>
<rect x="390.35" y="464.56" width="10.30" height="11.84" fill="#a8002a" stroke="#82102c" stroke-width="0.7"/>
<rect x="406.55" y="460.74" width="10.30" height="15.66" fill="#2e4c7e" stroke="#243a60" stroke-width="0.7"/>
<line x1="395.50" y1="464.21" x2="395.50" y2="462.54" stroke="#111" stroke-width="1.1" stroke-linecap="butt"/>
<line x1="392.75" y1="462.54" x2="398.25" y2="462.54" stroke="#111" stroke-width="1.1" stroke-linecap="butt"/>
<line x1="411.70" y1="460.39" x2="411.70" y2="457.28" stroke="#111" stroke-width="1.1" stroke-linecap="butt"/>
<line x1="408.95" y1="457.28" x2="414.45" y2="457.28" stroke="#111" stroke-width="1.1" stroke-linecap="butt"/>
<polyline points="307.30,395.50 307.30,380.70 324.20,380.70 324.20,408.00" fill="none" stroke="#111" stroke-width="1.3" stroke-linejoin="round" stroke-linecap="butt"/>
<text x="313.81" y="378.71" font-size="7.6" font-weight="bold" fill="#000">*</text>
<text x="310.28" y="489.70" font-size="8.4" textLength="11.15" lengthAdjust="spacingAndGlyphs">G0</text>
<text x="354.29" y="489.70" font-size="8.4" textLength="10.80" lengthAdjust="spacingAndGlyphs">G1</text>
<text x="388.50" y="489.70" font-size="8.4" textLength="30.03" lengthAdjust="spacingAndGlyphs">S/G2/M</text>
<rect x="435.40" y="366.00" width="7.60" height="5.60" fill="#a8002a"/>
<rect x="435.40" y="377.60" width="7.60" height="5.40" fill="#2e4c7e"/>
<text x="446.20" y="371.80" font-size="8.1" font-style="italic" fill="#1a1a1a" stroke-width="0.1">Sin3B<tspan font-size="4.6" dy="-3.4">F/F</tspan></text>
<text x="446.20" y="383.30" font-size="8.1" font-style="italic" fill="#1a1a1a" stroke-width="0.1">Sin3B<tspan font-size="4.6" dy="-3.4">F/F</tspan><tspan dy="3.4" font-size="8.1"> vav1-cre</tspan><tspan font-size="4.6" dy="-3.4">+</tspan></text>
<rect x="0.6" y="0.6" width="518.8" height="507.8" fill="none" stroke="#000" stroke-width="1.4"/>
</svg>
</body></html>
